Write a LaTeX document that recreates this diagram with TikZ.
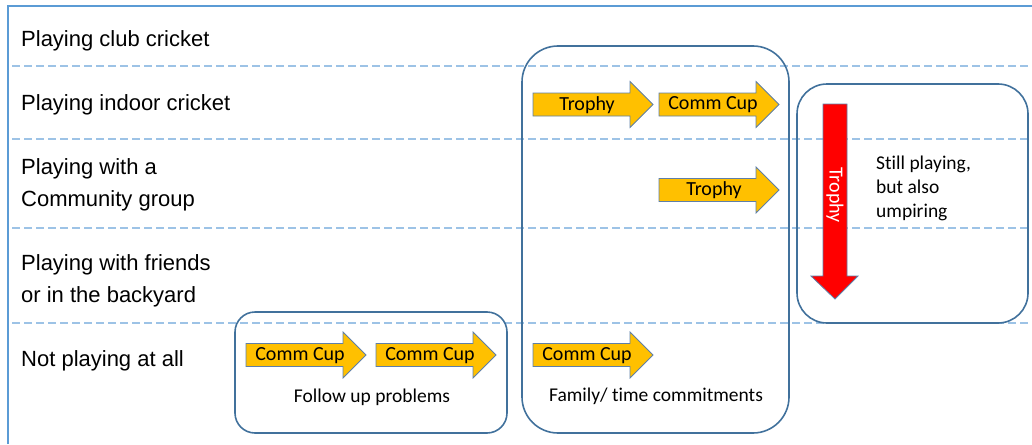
\documentclass[tikz,border=0pt]{standalone}
\usepackage{fontspec}
\setmainfont{Liberation Sans}
\newfontfamily\calfont[Ligatures={NoCommon}, RawFeature={-liga;-calt;-clig;-dlig}]{Carlito}
\definecolor{frameblue}{HTML}{5B9BD5}
\definecolor{dashblue}{HTML}{9DC3E6}
\definecolor{boxblue}{HTML}{41719C}
\definecolor{arrowgold}{HTML}{FFC000}
\definecolor{arrowedge}{HTML}{5E7FA8}
\tikzset{
  framestyle/.style={draw=frameblue, line width=2pt},
  rowsep/.style={draw=dashblue, line width=1.5pt, dash pattern=on 8pt off 4pt},
  groupbox/.style={draw=boxblue, line width=1.6pt},
  yarr/.style={fill=arrowgold, draw=arrowedge, line width=0.8pt},
  rarr/.style={fill=red, draw=arrowedge, line width=0.8pt},
  rowlabel/.style={anchor=base west, inner sep=0pt, font=\fontsize{22}{26}\selectfont},
  arrtext/.style={inner sep=0pt, font=\calfont\fontsize{20}{22}\selectfont},
  note/.style={inner sep=0pt, font=\calfont\fontsize{19.5}{24}\selectfont},
  hzarrow/.pic={\path[yarr] (0,-11.5) -- (97,-11.5) -- (97,-23) -- (120,0) -- (97,23) -- (97,11.5) -- (0,11.5) -- cycle;}
}
\begin{document}
\begin{tikzpicture}[x=1pt,y=-1pt]
\useasboundingbox (0,0) rectangle (1032,444);
% frame
\draw[framestyle] (8,444) -- (8,6) -- (1032,6);
% row separators
\foreach \yy in {66,139,228,323} {\draw[rowsep] (12,\yy) -- (1030,\yy);}
% row labels
\node[rowlabel] (r1) at (21,46) {Playing club cricket};
\node[rowlabel] (r2) at (21,110) {Playing indoor cricket};
\node[rowlabel] (r3a) at (21,174) {Playing with a};
\node[rowlabel] (r3b) at (21,206) {Community group};
\node[rowlabel] (r4a) at (21,270) {Playing with friends};
\node[rowlabel] (r4b) at (21,302) {or in the backyard};
\node[rowlabel] (r5) at (21,366) {Not playing at all};
% group boxes
\draw[groupbox, rounded corners=20pt] (235,312) rectangle (507,433);
\draw[groupbox, rounded corners=36pt] (522,46) rectangle (789,433);
\draw[groupbox, rounded corners=30pt] (797,84) rectangle (1028,323);
% yellow arrows
\pic at (533,104.5) {hzarrow};
\pic at (659,104.5) {hzarrow};
\pic at (659,190) {hzarrow};
\pic at (533,355) {hzarrow};
\pic at (246,355) {hzarrow};
\pic at (376,355) {hzarrow};
\node[arrtext] (t1) at (587,105) {Trophy};
\node[arrtext] (t2) at (713,105) {Comm Cup};
\node[arrtext] (t3) at (714,190.5) {Trophy};
\node[arrtext] (t4) at (587,355.5) {Comm Cup};
\node[arrtext] (t5) at (300,355.5) {Comm Cup};
\node[arrtext] (t6) at (430,355.5) {Comm Cup};
% red arrow
\path[rarr] (823,104) -- (847,104) -- (847,276) -- (858,276) -- (835,299) -- (811,276) -- (823,276) -- cycle;
\node[arrtext, text=white, rotate=-90] (t7) at (835,195) {Trophy};
% notes
\node[note] (n1) at (372,397) {Follow up problems};
\node[note] (n2) at (656,396) {Family/ time commitments};
\node[note, anchor=north west, align=left] (n3) at (876,156) {Still playing,\\but also\\umpiring};
\end{tikzpicture}
\end{document}
